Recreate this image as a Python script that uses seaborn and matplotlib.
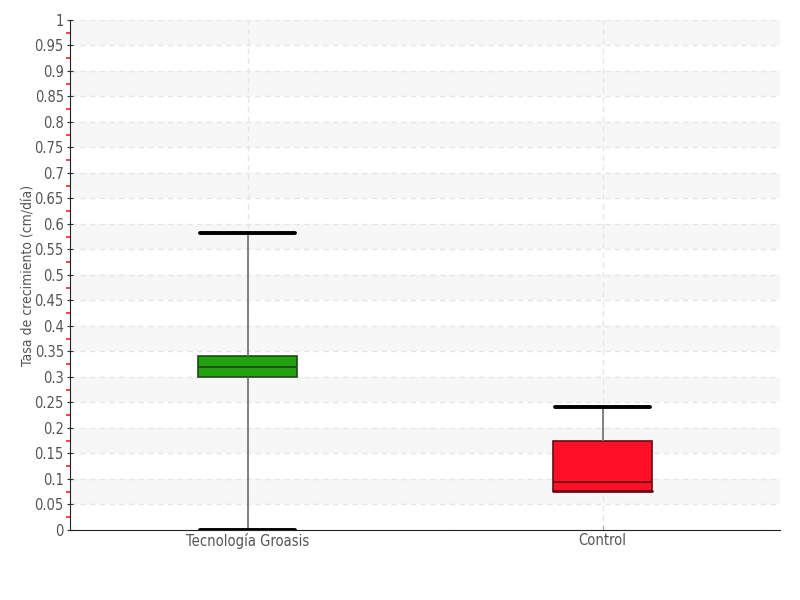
import matplotlib
matplotlib.use("Agg")
import matplotlib.pyplot as plt
import numpy as np
import pandas as pd
import seaborn as sns

# five-number summaries (min, q1, median, q3, max)
categories = ["Tecnología Groasis", "Control"]
groasis_vals = [0.0, 0.300, 0.320, 0.341, 0.582]
control_vals = [0.076, 0.076, 0.094, 0.175, 0.241]
colors = ["#21a30f", "#ff0f28"]
edge_colors = ["#1f4a17", "#6b0a14"]

sns.set_style("white")
plt.rcParams["font.family"] = ["DejaVu Sans"]
plt.rcParams["font.stretch"] = "condensed"

df = pd.DataFrame({
    "grupo": [categories[0]] * len(groasis_vals) + [categories[1]] * len(control_vals),
    "tasa": groasis_vals + control_vals,
})

fig = plt.figure(figsize=(8, 6), dpi=100)
ax = fig.add_axes([0.0875, 0.1167, 0.8875, 0.85])

# alternating bands
yt = np.round(np.arange(0, 1.0001, 0.05), 2)
for i in range(len(yt) - 1):
    if i % 2 == 1:
        ax.axhspan(yt[i], yt[i + 1], color="#f7f7f7", zorder=0, lw=0)

sns.boxplot(data=df, x="grupo", y="tasa", hue="grupo", palette=colors,
            order=categories, whis=(0, 100), width=0.28, ax=ax,
            showfliers=False, legend=False, saturation=1,
            whiskerprops=dict(color="#777777", lw=1.3),
            capprops=dict(color="black", lw=2.8),
            medianprops=dict(color="#222222", lw=1.3),
            boxprops=dict(lw=1.2))

for i, cont in enumerate(ax.containers):
    for b in cont.boxes:
        b.set_edgecolor(edge_colors[i])
    for m in cont.medians:
        m.set_color(edge_colors[i])
    for c in cont.caps:
        c.set_xdata([i - 0.135, i + 0.135])
# control's lower whisker sits on Q1: only the darker box edge shows
low_cap = ax.containers[1].caps[0]
low_cap.set_color(edge_colors[1])
low_cap.set_linewidth(2)
low_cap.set_xdata([1 - 0.14, 1 + 0.14])

ax.set_xlim(-0.5, 1.5)
ax.set_ylim(0, 1)
ax.set_yticks(yt)
ax.set_yticklabels([("%g" % v) for v in yt])
ax.set_yticks(np.round(np.arange(0.025, 1, 0.05), 3), minor=True)
ax.grid(True, axis="both", which="major", color="#e6e6e6", ls=(0, (4, 3)), lw=1)
ax.set_axisbelow(True)

ax.tick_params(axis="y", which="major", direction="inout", length=5, color="#333333",
               labelsize=10.5, labelcolor="#555555", pad=2, left=True)
ax.tick_params(axis="y", which="minor", direction="out", length=3, width=1.2,
               color="#ff2020", left=True)
ax.tick_params(axis="x", direction="in", length=3, color="#999999",
               labelsize=10.5, labelcolor="#555555", pad=2, bottom=True)

for s in ["top", "right"]:
    ax.spines[s].set_visible(False)
ax.spines["left"].set_color("#222222")
ax.spines["bottom"].set_color("#222222")

ax.set_xlabel("")
ax.set_ylabel("Tasa de crecimiento (cm/día)", fontsize=10, color="#555555", labelpad=-1)

fig.savefig("out.png", dpi=100)
